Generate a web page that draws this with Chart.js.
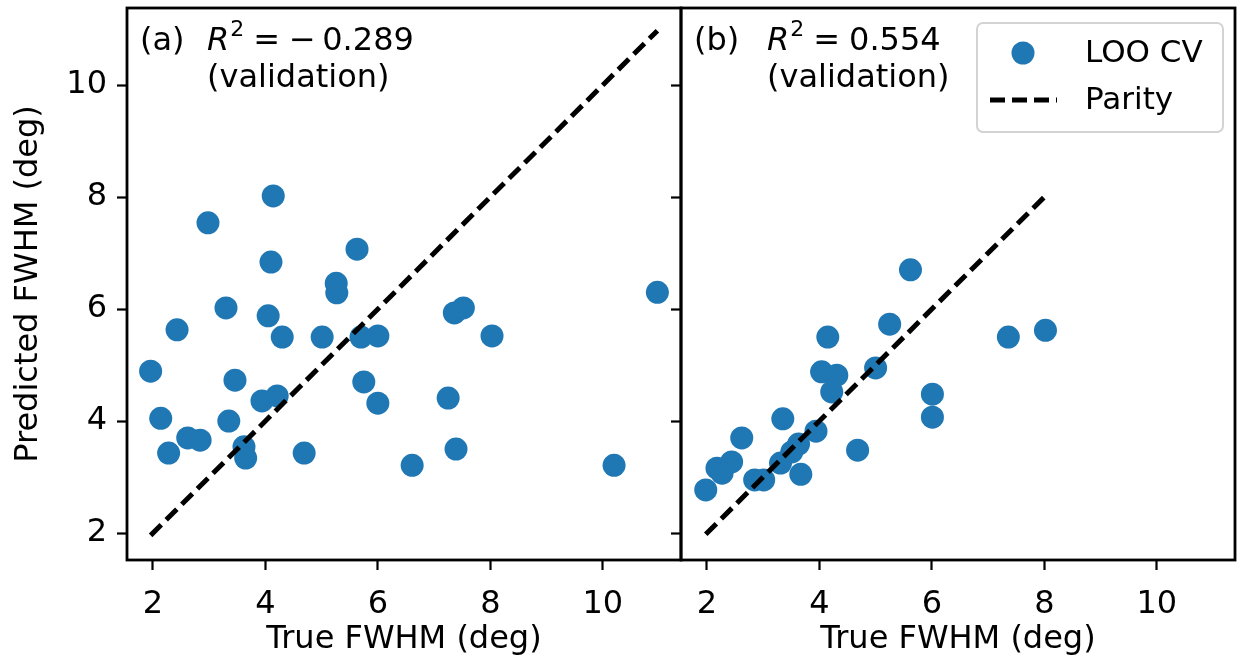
<!DOCTYPE html>
<html>
<head>
<meta charset="utf-8">
<script src="https://cdn.jsdelivr.net/npm/chart.js@4/dist/chart.umd.min.js"></script>
<style>
html, body { margin: 0; padding: 0; background: #fff; }
#wrap { position: relative; width: 1237px; height: 661px; }
.box { position: absolute; top: 0; height: 661px; }
</style>
</head>
<body>
<div id="wrap">
  <div class="box" style="left:0;width:690px"><canvas id="chartA"></canvas></div>
  <div class="box" style="left:660px;width:577px"><canvas id="chartB"></canvas></div>
</div>
<script>
// panel (a): full model, LOO CV
var aTrue = [1.96, 2.14, 2.28, 2.43, 2.98, 2.62, 2.84, 3.30, 3.35, 3.46, 3.62, 3.65, 3.94, 4.05, 4.10, 4.14, 4.21, 4.30,
             4.69, 5.01, 5.26, 5.27, 5.63, 5.70, 5.75, 6.00, 6.00, 6.61, 7.25, 7.36, 7.52, 7.39, 8.03, 10.20, 10.97];
var aPred = [4.89, 4.05, 3.43, 5.63, 7.54, 3.70, 3.66, 6.02, 4.00, 4.73, 3.54, 3.34, 4.36, 5.88, 6.84, 8.02, 4.45, 5.50,
             3.43, 5.50, 6.46, 6.29, 7.07, 5.50, 4.70, 5.52, 4.32, 3.21, 4.41, 5.93, 6.02, 3.50, 5.52, 3.21, 6.30];
// panel (b)
var bTrue = [5.62, 5.25, 4.15, 5.00, 4.04, 4.31, 4.22, 6.01, 6.01, 3.35, 2.62, 3.94, 4.68, 3.63, 3.51, 3.31, 2.44,
             2.18, 2.27, 3.67, 2.85, 3.01, 1.98, 7.36, 8.02];
var bPred = [6.70, 5.73, 5.50, 4.95, 4.88, 4.82, 4.52, 4.48, 4.07, 4.04, 3.70, 3.82, 3.48, 3.59, 3.45, 3.25, 3.27,
             3.16, 3.07, 3.05, 2.95, 2.95, 2.77, 5.50, 5.62];

var xTicks = [2, 4, 6, 8, 10];
var yTicks = [2, 4, 6, 8, 10];
var xRange = [1.54, 11.39];
var yRange = [1.52, 11.375];

var panelTags = ['(a)', '(b)'];
var panelR2 = ['\u2212\u20090.289', '0.554'];
var seriesNames = ['LOO CV', 'Parity'];
var xTitle = 'True FWHM (deg)';
var yTitle = 'Predicted FWHM (deg)';

var FONT = '"DejaVu Sans", sans-serif';
var FS = 32;
var BLUE = '#1f77b4';

Chart.defaults.font.family = FONT;
Chart.defaults.font.size = FS;
Chart.defaults.color = '#000';

function toPoints(xs, ys) {
  return xs.map(function (x, i) { return { x: x, y: ys[i] }; });
}

function parity(xs) {
  var lo = Math.min.apply(null, xs), hi = Math.max.apply(null, xs);
  return [{ x: lo, y: lo }, { x: hi, y: hi }];
}

function noPad(s) {
  s.paddingLeft = 0; s.paddingRight = 0; s.paddingTop = 0; s.paddingBottom = 0;
}

var framePlugin = {
  id: 'frame',
  afterDraw: function (chart) {
    var ca = chart.chartArea, ctx = chart.ctx;
    ctx.save();
    ctx.strokeStyle = '#000';
    ctx.lineWidth = 2.8;
    ctx.strokeRect(ca.left, ca.top, ca.right - ca.left, ca.bottom - ca.top);
    ctx.restore();
  }
};

var panelText = {
  id: 'panelText',
  afterDraw: function (chart, args, o) {
    var ca = chart.chartArea, ctx = chart.ctx;
    var base = ca.top + 42;
    ctx.save();
    ctx.fillStyle = '#000';
    ctx.textBaseline = 'alphabetic';
    ctx.font = FS + 'px ' + FONT;
    ctx.fillText(o.tag, ca.left + 13, base);
    var x = ca.left + o.dx;
    ctx.font = 'italic ' + FS + 'px ' + FONT;
    ctx.fillText('R', x, base);
    x += ctx.measureText('R').width + 1;
    ctx.font = '22px ' + FONT;
    ctx.fillText('2', x, base - 14);
    x += ctx.measureText('2').width + 9;
    ctx.font = FS + 'px ' + FONT;
    ctx.fillText('=', x, base);
    x += ctx.measureText('=').width + 9;
    ctx.fillText(o.r2, x, base);
    ctx.fillText('(validation)', ca.left + o.dx, base + 37);

    if (o.legend) {
      var w = 246, h = 109;
      var lx = ca.right - 12 - w, ly = ca.top + 15;
      ctx.beginPath();
      ctx.roundRect(lx, ly, w, h, 6);
      ctx.fillStyle = 'rgba(255,255,255,0.8)';
      ctx.fill();
      ctx.strokeStyle = '#d3d3d3';
      ctx.lineWidth = 2;
      ctx.stroke();
      ctx.fillStyle = BLUE;
      ctx.beginPath();
      ctx.arc(lx + 46, ly + 30, 11.5, 0, Math.PI * 2);
      ctx.fill();
      ctx.strokeStyle = '#000';
      ctx.lineWidth = 5;
      ctx.setLineDash([15, 7]);
      ctx.beginPath();
      ctx.moveTo(lx + 13, ly + 77);
      ctx.lineTo(lx + 80, ly + 77);
      ctx.stroke();
      ctx.setLineDash([]);
      ctx.fillStyle = '#000';
      ctx.textBaseline = 'middle';
      ctx.font = '31px ' + FONT;
      ctx.fillText(seriesNames[0], lx + 108, ly + 31);
      ctx.fillText(seriesNames[1], lx + 108, ly + 78);
    }
    ctx.restore();
  }
};

function makeChart(id, xs, ys, idx, showY) {
  var xScale = {
    type: 'linear',
    min: xRange[0],
    max: xRange[1],
    afterBuildTicks: function (s) { s.ticks = xTicks.map(function (v) { return { value: v }; }); },
    afterFit: function (s) { s.height = 101; noPad(s); },
    ticks: { padding: 15, maxRotation: 0 },
    grid: { drawOnChartArea: false, drawTicks: true, tickLength: 10, tickWidth: 2.2, tickColor: '#000' },
    border: { display: false },
    title: { display: true, text: xTitle, padding: { top: 0, bottom: 2 } }
  };
  var yScale = {
    type: 'linear',
    min: yRange[0],
    max: yRange[1],
    afterBuildTicks: function (s) { s.ticks = yTicks.map(function (v) { return { value: v }; }); },
    afterFit: function (s) { s.width = showY ? 127 : 21; noPad(s); },
    ticks: { display: showY, padding: 10 },
    grid: { drawOnChartArea: false, drawTicks: true, tickLength: 10, tickWidth: 2.2, tickColor: '#000' },
    border: { display: false },
    title: { display: showY, text: yTitle, padding: { top: 9, bottom: 0 } }
  };
  return new Chart(document.getElementById(id), {
    type: 'scatter',
    data: {
      datasets: [
        {
          type: 'line',
          label: seriesNames[1],
          data: parity(xs),
          borderColor: '#000',
          borderWidth: 5,
          borderDash: [15, 7],
          pointRadius: 0,
          fill: false,
          order: 0
        },
        {
          label: seriesNames[0],
          data: toPoints(xs, ys),
          backgroundColor: BLUE,
          borderWidth: 0,
          pointRadius: 11.5,
          order: 1
        }
      ]
    },
    options: {
      responsive: true,
      maintainAspectRatio: false,
      animation: false,
      devicePixelRatio: 1,
      layout: { autoPadding: false, padding: { left: 0, top: 8, right: showY ? 9 : 2, bottom: 0 } },
      scales: { x: xScale, y: yScale },
      plugins: {
        legend: { display: false },
        tooltip: { enabled: false },
        panelText: { tag: panelTags[idx], r2: panelR2[idx], dx: showY ? 80 : 86, legend: !showY }
      }
    },
    plugins: [framePlugin, panelText]
  });
}

makeChart('chartA', aTrue, aPred, 0, true);
makeChart('chartB', bTrue, bPred, 1, false);
</script>
</body>
</html>
